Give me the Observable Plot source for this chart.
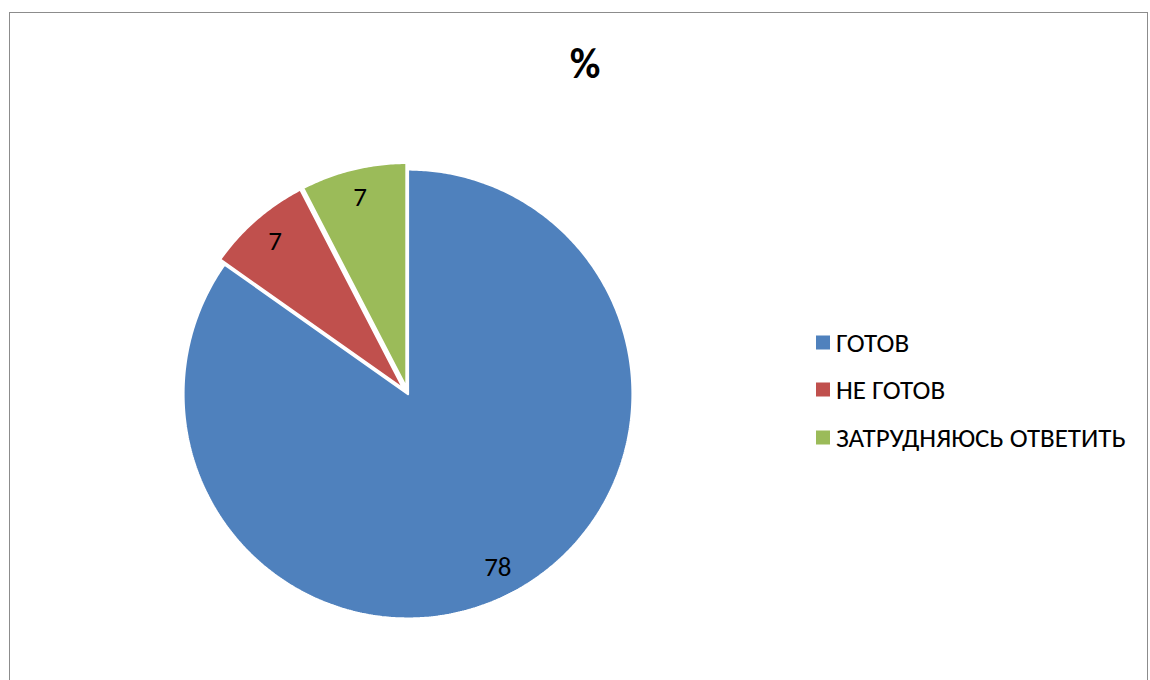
<!DOCTYPE html>
<html>
<head>
<meta charset="utf-8">
<script src="https://cdn.jsdelivr.net/npm/d3@7"></script>
<script src="https://cdn.jsdelivr.net/npm/@observablehq/plot@0.6"></script>
<style>
  body { margin: 0; background: #fff; }
  #wrap { position: relative; width: 1150px; height: 680px; overflow: hidden; font-family: Carlito, Calibri, "Open Sans", sans-serif; }
  #frame { position: absolute; left: 9px; top: 12px; width: 1139px; height: 680px; border: 1px solid #8c8c8c; box-sizing: border-box; }
  #title { position: absolute; left: 585px; top: 64px; transform: translate(-50%, -50%); font-size: 42px; font-weight: bold; color: #000; line-height: 1; }
  #plot { position: absolute; left: 0; top: 0; }
  .leg { position: absolute; left: 816px; font-size: 27px; line-height: 1; color: #000; display: flex; align-items: center; white-space: nowrap; transform: translateY(-50%); }
  .leg span.sw { display: inline-block; width: 14px; height: 14px; margin-right: 6px; }
</style>
</head>
<body>
<div id="wrap">
  <div id="frame"></div>
  <div id="title">%</div>
  <div id="plot"></div>
  <div id="legend"></div>
</div>
<script>
const categories = ["ГОТОВ", "НЕ ГОТОВ", "ЗАТРУДНЯЮСЬ ОТВЕТИТЬ"];
const values = [78, 7, 7];
const colors = ["#4F81BD", "#C0504D", "#9BBB59"];
const explode = [0, 0.03, 0.03];

const pie = d3.pie().sort(null).value(d => d)(values);
const polys = [];
const labels = [];
pie.forEach((p, i) => {
  const mid = (p.startAngle + p.endAngle) / 2;
  const ox = Math.sin(mid) * explode[i], oy = Math.cos(mid) * explode[i];
  const n = Math.max(4, Math.ceil((p.endAngle - p.startAngle) / 0.01));
  const pts = [{x: ox, y: oy, k: categories[i]}];
  for (let j = 0; j <= n; j++) {
    const a = p.startAngle + (p.endAngle - p.startAngle) * j / n;
    pts.push({x: ox + Math.sin(a), y: oy + Math.cos(a), k: categories[i]});
  }
  pts.push({x: ox, y: oy, k: categories[i]});
  polys.push(...pts);
  const lr = 0.87;
  labels.push({x: ox + Math.sin(mid) * lr, y: oy + Math.cos(mid) * lr, t: String(values[i])});
});

const cx = 407.5, cy = 393.5, R = 224.5;
const chart = Plot.plot({
  width: 1150, height: 680,
  margin: 0,
  x: {domain: [-1, 1], range: [cx - R, cx + R], axis: null},
  y: {domain: [-1, 1], range: [cy + R, cy - R], axis: null},
  color: {domain: categories, range: colors},
  style: {background: "transparent", overflow: "visible"},
  marks: [
    Plot.line(polys, {x: "x", y: "y", z: "k", fill: "k", stroke: "white", strokeWidth: 2.2, strokeLinejoin: "miter"}),
    Plot.text(labels, {x: "x", y: "y", text: "t", fontSize: 27, fill: "#000", fontFamily: "Carlito, Calibri, 'Open Sans', sans-serif"})
  ]
});
document.getElementById("plot").appendChild(chart);

const legend = document.getElementById("legend");
const mids = [342, 389, 437];
categories.forEach((c, i) => {
  const d = document.createElement("div");
  d.className = "leg";
  d.style.top = mids[i] + "px";
  d.innerHTML = `<span class="sw" style="background:${colors[i]}"></span>${c}`;
  legend.appendChild(d);
});
</script>
</body>
</html>
